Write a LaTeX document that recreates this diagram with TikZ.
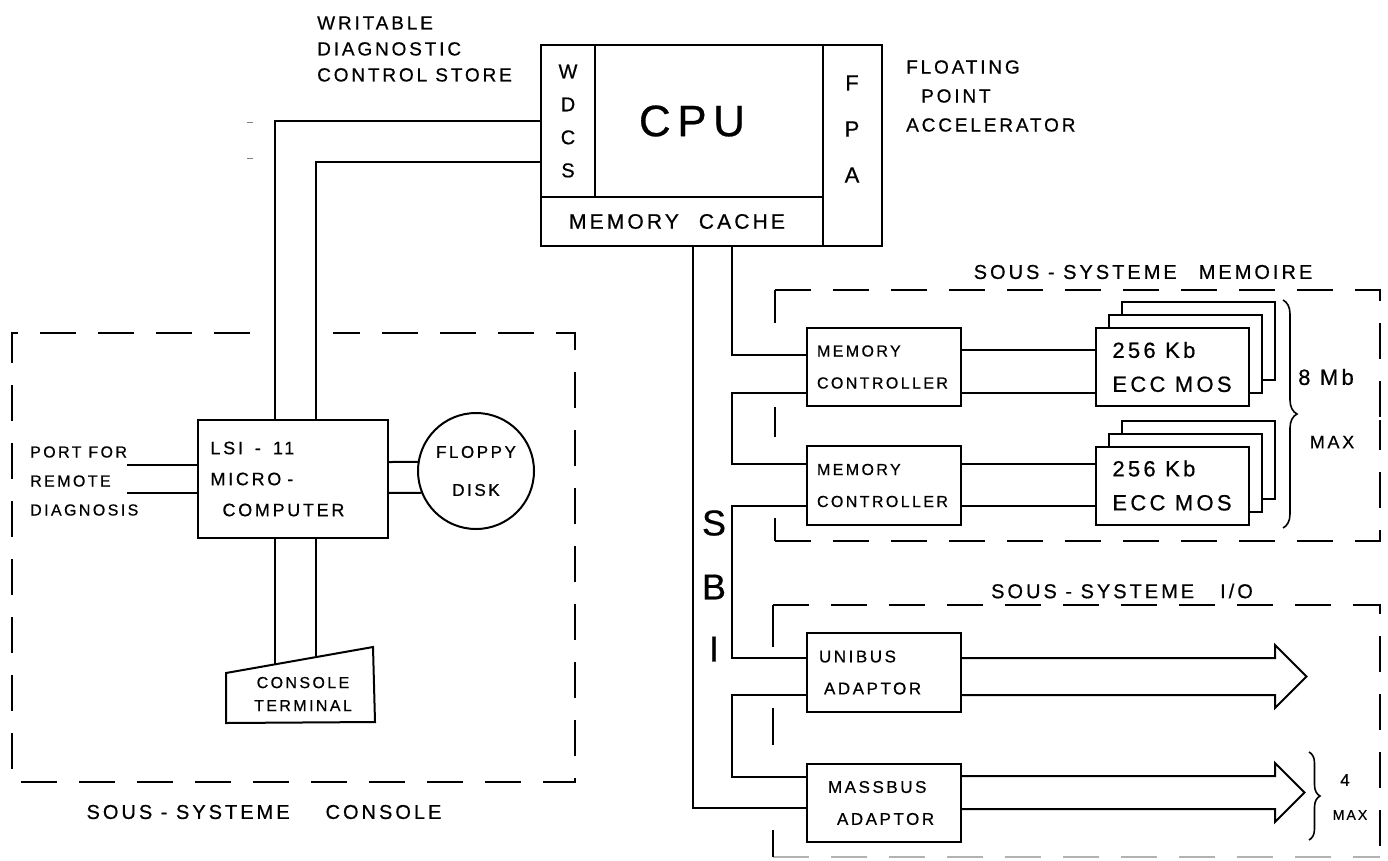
\documentclass[tikz,border=0pt]{standalone}
\usepackage{fontspec}
\setmainfont{Liberation Sans}
\newfontfamily\hand[LetterSpace=15, FakeBold=0.6]{Liberation Sans}
\usetikzlibrary{decorations.pathreplacing}

\tikzset{
  box/.style={draw, line width=2pt, inner sep=0pt, outer sep=0pt, align=center,
    font=\hand\fontsize{17}{32}\selectfont},
  membox/.style={box, fill=white, minimum width=153, minimum height=78, align=left,
    font=\hand\fontsize{22}{34}\selectfont},
  bus/.style={line width=2pt},
  dashbox/.style={line width=2pt, dash pattern=on 36pt off 22pt},
  txt/.style={inner sep=0pt, align=left, font=\hand\fontsize{16}{26}\selectfont},
  sublbl/.style={txt, font=\hand\fontsize{20}{22}\selectfont},
  brc/.style={line width=1.6pt, decorate, decoration={brace, amplitude=#1}},
}

% hollow bus arrow out of the east side of a box
\newcommand{\fatarrow}[3]{
  \pgfmathsetmacro{\hw}{(#2-(#3))/2 + 13}
  \draw[bus, line join=miter] ([yshift=#2]#1.east) -- ++(314,0) -- ++(0,-13)
    -- ++(\hw,\hw) -- ++(-\hw,\hw) -- ++(0,-13) -- ([yshift=#3]#1.east);
}

\begin{document}
\begin{tikzpicture}[x=1pt, y=-1pt]
  \useasboundingbox (0,0) rectangle (1388,860);

  % cpu
  \node[box, minimum width=54, minimum height=152, font=\hand\fontsize{20}{33}\selectfont]
    (wdcs) at (568,121) {W\\D\\C\\S};
  \node[box, minimum width=228, minimum height=152, font=\hand\fontsize{44}{44}\selectfont]
    (cpu) at (709,121) {CPU\hspace{34pt}};
  \node[box, minimum width=282, minimum height=49, font=\hand\fontsize{21}{22}\selectfont]
    (cache) at (682,221.5) {MEMORY\hspace{20pt}CACHE\hspace{10pt}};
  \node[box, minimum width=59, minimum height=201] (fpa) at (852.5,145.5) {};
  \node[txt, align=center, font=\hand\fontsize{22}{46}\selectfont] (fpatxt) at (852,129) {F\\P\\A};

  \node[txt, anchor=west, font=\hand\fontsize{19}{26}\selectfont]
    (wdcslbl) at (317,49) {WRITABLE\\DIAGNOSTIC\\CONTROL STORE};
  \node[txt, anchor=west, font=\hand\fontsize{19}{29}\selectfont]
    (fpalbl) at (906,96) {FLOATING\\\hspace{15pt}POINT\\ACCELERATOR};

  % console
  \node[box, minimum width=190, minimum height=118, text width=165, align=left,
    font=\hand\fontsize{18}{31}\selectfont]
    (lsi) at (293,479) {LSI\hspace{12pt}-\hspace{12pt}11\\MICRO -\\\hspace{12pt}COMPUTER};
  \node[box, circle, minimum size=116, font=\hand\fontsize{17}{38}\selectfont]
    (floppy) at (476,471) {FLOPPY\\DISK};
  \draw[bus] (226,673) -- (373,647) -- (375,722) -- (226,723) -- cycle;
  \node[txt, align=center, font=\hand\fontsize{16}{23}\selectfont]
    (term) at (303,694) {CONSOLE\\TERMINAL};
  \coordinate (t1) at (275,664.3);
  \coordinate (t2) at (316,657.1);
  \node[txt, anchor=west, font=\hand\fontsize{16}{29}\selectfont]
    (port) at (30,481) {PORT FOR\\REMOTE\\DIAGNOSIS};
  \coordinate (p1) at (127,465);
  \coordinate (p2) at (127,493);

  \draw[bus] (wdcs.west) -| ([xshift=-18]lsi.north);
  \draw[bus] ([yshift=-41]wdcs.west) -| ([xshift=23]lsi.north);
  \draw[bus] ([xshift=-18]lsi.south) -- (t1);
  \draw[bus] ([xshift=23]lsi.south) -- (t2);
  \draw[bus] (p1) -- ([yshift=14]lsi.west);
  \draw[bus] (p2) -- ([yshift=-14]lsi.west);
  \draw[bus] ([yshift=17]lsi.east) -- (floppy.171);
  \draw[bus] ([yshift=-14]lsi.east) -- (floppy.202);
  \draw[line width=1pt, black!50] (247,122) -- (253,122) (247,158) -- (253,158);

  \draw[dashbox] (250,333) -- (12,333) -- (12,782) -- (575,782) -- (575,333) -- (333,333);
  \node[sublbl] (conlbl) at (264,812) {SOUS - SYSTEME\hspace{36pt}CONSOLE};

  % memoire
  \node[box, minimum width=154, minimum height=78, text width=134, align=left,
    font=\hand\fontsize{16}{32}\selectfont]
    (mc1) at (884,367) {MEMORY\\CONTROLLER};
  \node[box, minimum width=154, minimum height=79, text width=134, align=left,
    font=\hand\fontsize{16}{32}\selectfont]
    (mc2) at (884,485.5) {MEMORY\\CONTROLLER};
  \foreach \m/\y in {1/367, 2/485.5} {
    \foreach \k in {2,1}
      \node[membox] (mem\m-\k) at (1172+13*\k, \y-13*\k) {};
    \node[membox] (mem\m) at (1172,\y) {256 Kb\\ECC MOS};
  }
  \foreach \a/\b/\s in {mc1/mem1/17, mc1/mem1/-26, mc2/mem2/21.5, mc2/mem2/-20}
    \draw[bus] ([yshift=\s]\a.east) -- ([yshift=\s]\b.west);

  \draw[brc=14pt] (1283,300) -- (1283,528);
  \node[txt, font=\hand\fontsize{22}{22}\selectfont] (mb) at (1326,377) {8 Mb};
  \node[txt, font=\hand\fontsize{18}{18}\selectfont] (mbmax) at (1332,442) {MAX};

  \draw[dashbox] (775,290) -- (1380,290) -- (1380,420);
  \draw[dashbox] (775,541) -- (1380,541) -- (1380,420);
  \draw[bus] (775,290) -- (775,323) (775,407) -- (775,437) (775,518) -- (775,541);
  \node[sublbl] (memlbl) at (1143,272) {SOUS - SYSTEME\hspace{22pt}MEMOIRE};

  % i/o
  \node[box, minimum width=154, minimum height=79, text width=130, align=left]
    (uni) at (884,672.5) {UNIBUS\\\hspace{5pt}ADAPTOR};
  \node[box, minimum width=154, minimum height=78, text width=130, align=left]
    (mass) at (884,803) {\hspace{9pt}MASSBUS\\\hspace{18pt}ADAPTOR};
  \fatarrow{uni}{14.5}{-22.5}
  \fatarrow{mass}{27}{-6}

  \draw[brc=11pt] (1309,752) -- (1309,840);
  \node[txt, font=\hand\fontsize{17}{17}\selectfont] (iomax4) at (1345,780) {4};
  \node[txt, font=\hand\fontsize{14}{14}\selectfont] (iomax) at (1350,815) {MAX};

  \draw[dashbox] (773,605) -- (1380,605) -- (1380,857);
  \draw[dashbox, black!30] (773,857) -- (1380,857);
  \draw[bus] (773,605) -- (773,647) (773,708) -- (773,745) (773,830) -- (773,857);
  \node[sublbl] (iolbl) at (1122,591) {SOUS - SYSTEME\hspace{26pt}I/O};

  % sbi
  \draw[bus] ([xshift=11]cache.south) |- ([yshift=-5]mass.west);
  \draw[bus] ([xshift=50]cache.south) |- ([yshift=12]mc1.west);
  \foreach \a/\b/\s/\t in {mc1/mc2/-26/21.5, mc2/uni/-20/14.5, uni/mass/-22.5/26}
    \draw[bus] ([yshift=\s]\a.west) -- ++(-75,0) |- ([yshift=\t]\b.west);
  \foreach \l/\y in {S/523, B/587, I/649}
    \node[txt, font=\hand\fontsize{36}{36}\selectfont] (sbi\l) at (714,\y) {\l};

\end{tikzpicture}
\end{document}
